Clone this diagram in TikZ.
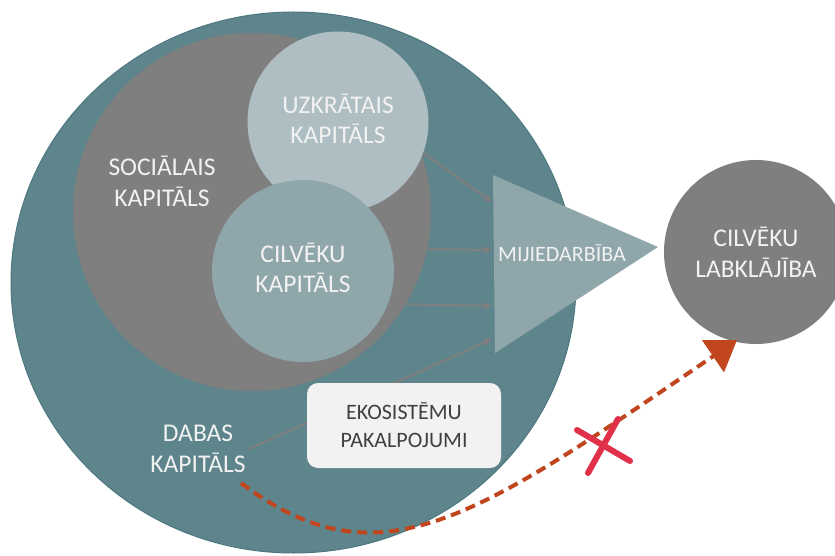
\documentclass[tikz,border=0pt]{standalone}
\usepackage{fontspec}
\setmainfont{Carlito}
\usetikzlibrary{arrows.meta}
\definecolor{cTeal}{HTML}{5E858B}
\definecolor{cTealD}{HTML}{4C7780}
\definecolor{cGray}{HTML}{7F7F7F}
\definecolor{cUzk}{HTML}{AEBEC2}
\definecolor{cCil}{HTML}{8FA6AB}
\definecolor{cTri}{HTML}{8FA6AA}
\definecolor{cTxt}{HTML}{F2F2F2}
\definecolor{cBox}{HTML}{F2F2F2}
\definecolor{cBoxTxt}{HTML}{404040}
\definecolor{cRed}{HTML}{C1461E}
\definecolor{cCross}{HTML}{E0304A}
\tikzset{
  bigtxt/.style={text=cTxt, align=center, font=\fontsize{25.5}{31}\selectfont, inner sep=0},
  disc/.style={circle, inner sep=0, draw=none},
  flow/.style={draw=cGray, line width=2pt, -{Triangle[length=8pt,width=7pt]}},
}
\begin{document}
\begin{tikzpicture}[x=1pt,y=-1pt]
\useasboundingbox (0,0) rectangle (835,556);
\fill[white] (0,0) rectangle (835,556);
% natural capital
\draw[fill=cTeal, draw=cTealD, line width=1pt] (293.5,282.5) ellipse [x radius=282.5, y radius=270.5];
% social capital
\node[disc, fill=cGray, minimum size=358pt] (soc) at (252,212) {};
\node[bigtxt] (soct) at (162,181) {SOCIĀLAIS\\KAPITĀLS};
% built capital
\node[disc, fill=cUzk, minimum size=181pt, bigtxt] (uzk) at (338,122) {\raisebox{3pt}{\begin{tabular}{@{}c@{}}UZKRĀTAIS\\[-1pt]KAPITĀLS\end{tabular}}};
% human capital
\node[disc, fill=cCil, minimum size=182pt, bigtxt] (cil) at (303,271) {\raisebox{3pt}{\begin{tabular}{@{}c@{}}CILVĒKU\\[-1pt]KAPITĀLS\end{tabular}}};
% interaction triangle
\fill[cTri] (493,175) -- (658,247) -- (495,353) -- cycle;
\node[text=cTxt, font=\fontsize{22}{26}\selectfont, inner sep=0] (mij) at (562,253) {MIJIEDARBĪBA};
\coordinate (a1) at (492,202);
\coordinate (a2) at (492,250);
\coordinate (a3) at (492,306);
\coordinate (a4) at (492,339);
% natural capital label
\node[bigtxt] (dab) at (198,449) {DABAS\\KAPITĀLS};
\coordinate (dabs) at (249,449);
% flows
\draw[flow] (uzk.-20) -- (a1);
\draw[flow] (soc.-12) -- (a2);
\draw[flow] (soc.-31.7) -- (a3);
\draw[flow] (dabs) -- (a4);
% ecosystem services box
\node[fill=cBox, rounded corners=11pt, minimum width=194pt, minimum height=85pt, inner sep=0,
      text=cBoxTxt, align=center, font=\fontsize{22}{28}\selectfont] (eko) at (404,425.5) {EKOSISTĒMU\\PAKALPOJUMI};
% human well-being
\node[disc, fill=cGray, minimum size=184pt, bigtxt] (lab) at (756,252) {CILVĒKU\\LABKLĀJĪBA};
% red dashed link
\coordinate (rs) at (241,483);
\coordinate (re) at (737,340);
\draw[cRed, line width=4pt, dash pattern=on 10pt off 6pt, -{Triangle[length=29pt,width=38pt]}]
  (rs) .. controls (380,588) and (477,517) .. (re);
% cross
\draw[cCross, line width=6pt, line cap=round] (577,430) -- (630,461);
\draw[cCross, line width=6pt, line cap=round] (618,419) -- (588,473);
\end{tikzpicture}
\end{document}
